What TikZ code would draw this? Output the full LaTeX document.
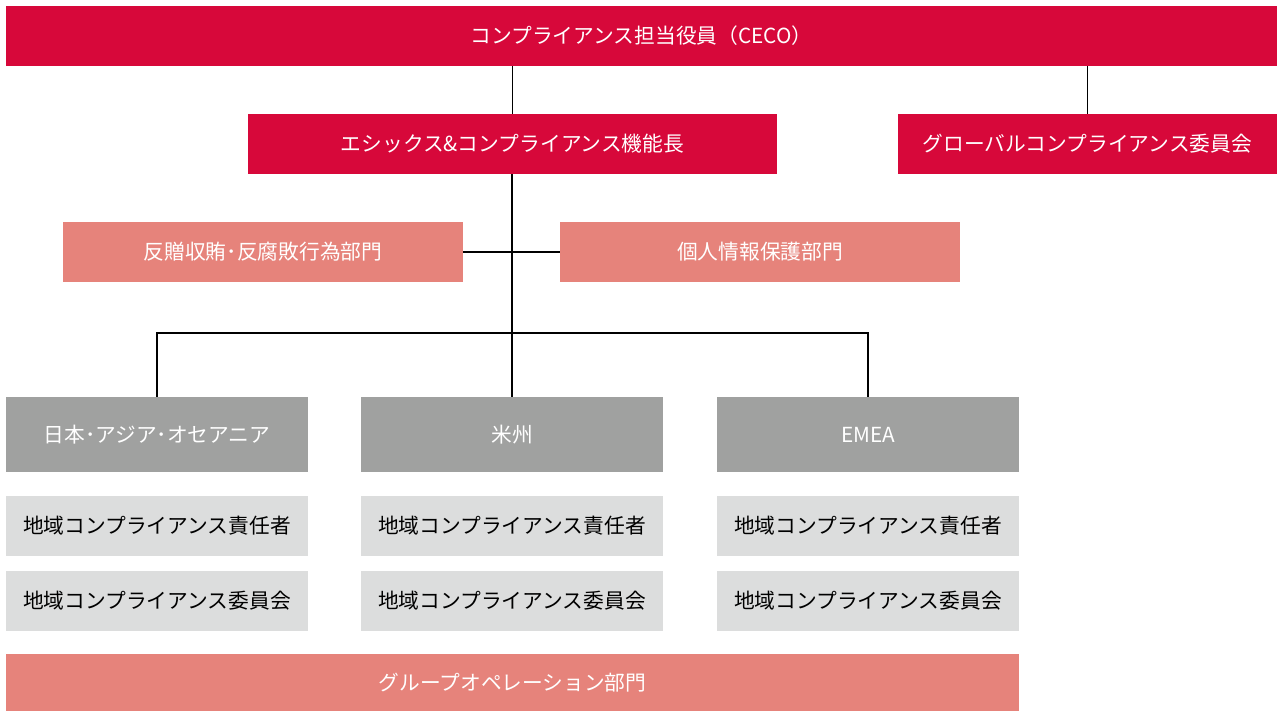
\documentclass[tikz,border=0pt]{standalone}
\usepackage{fontspec}
\setmainfont{Noto Sans CJK JP}
\usetikzlibrary{positioning}
\definecolor{cecored}{HTML}{D7083A}
\definecolor{salmon}{HTML}{E6837B}
\definecolor{regiongray}{HTML}{A0A1A0}
\definecolor{lightgray}{HTML}{DCDDDD}
\tikzset{
  box/.style={rectangle, inner sep=0pt, minimum height=1.2cm, font=\fontsize{11.8}{14}\selectfont},
  redbox/.style={box, fill=cecored, text=white},
  pinkbox/.style={box, fill=salmon, text=white},
  regionbox/.style={box, fill=regiongray, text=white, minimum width=6.04cm, minimum height=1.5cm},
  localbox/.style={box, fill=lightgray, text=black, minimum width=6.04cm},
  link/.style={line width=0.6pt, black}
}
\begin{document}
\begin{tikzpicture}[x=0.02cm, y=-0.02cm]
                \useasboundingbox (0,0) rectangle (1277,711);
                \node[redbox, minimum width=25.42cm] (ceco) at (641.5,36) {コンプライアンス担当役員（CECO）};
                \node[redbox, minimum width=10.58cm] (head) at (512.5,144) {エシックス\&コンプライアンス機能長};
                \node[redbox, minimum width=7.58cm] (gcc) at (1087.5,144) {グローバルコンプライアンス委員会};
                \node[pinkbox, minimum width=8cm] (abc) at (263,252) {反贈収賄･反腐敗行為部門};
                \node[pinkbox, minimum width=8cm] (privacy) at (760,252) {個人情報保護部門};
                \foreach[count=\i] \x/\t in {157/日本･アジア･オセアニア,512/米州,868/EMEA}
                {
                    \node[regionbox] (r\i) at (\x,434.5) {\t};
                    \node[localbox] (l\i) at (\x,526) {地域コンプライアンス責任者};
                    \node[localbox] (c\i) at (\x,601) {地域コンプライアンス委員会};
                }
                \node[pinkbox, minimum width=20.26cm, minimum height=1.14cm] (ops) at (512.5,682.5) {グループオペレーション部門};
                \coordinate (hub) at (512,333);
                \draw[link] (head.north) -- (head.north |- ceco.south);
                \draw[link] (gcc.north) -- (gcc.north |- ceco.south);
                \draw[link] (r2.north) -- (r2.north |- head.south);
                \draw[link] (abc.east) -- (privacy.west);
                \draw[link] (r1.north) |- (hub) -| (r3.north);

            \end{tikzpicture}
\end{document}
